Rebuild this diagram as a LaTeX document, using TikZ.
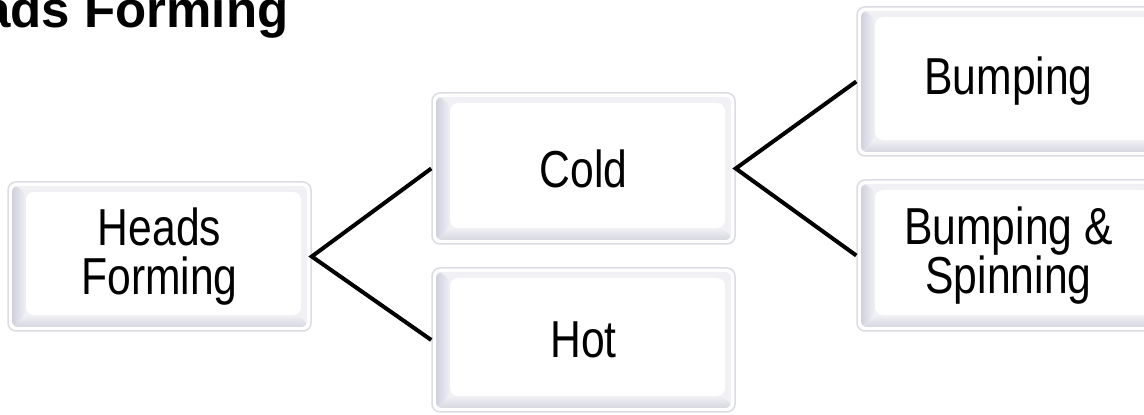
\documentclass[tikz,border=0pt]{standalone}
\usepackage{fontspec}
\setmainfont{Liberation Sans}
\newfontfamily\boxfont[FakeStretch=0.82]{Liberation Sans}
\usetikzlibrary{calc}
\definecolor{edgec}{RGB}{220,220,226}
\definecolor{bodyc}{RGB}{240,240,245}
\definecolor{bevL}{RGB}{200,200,216}
\definecolor{bevB}{RGB}{206,206,218}
\tikzset{
  bevelbox/.style={
    draw=edgec, line width=1.5pt, rounded corners=8pt, fill=white,
    minimum width=303pt, inner sep=0pt, align=center,
    font=\boxfont\fontsize{52}{49}\selectfont, text=black,
    path picture={
      \path (path picture bounding box.south west) coordinate (SW)
            (path picture bounding box.north east) coordinate (NE)
            (path picture bounding box.north west) coordinate (NW)
            (path picture bounding box.south east) coordinate (SE);
      \begin{scope}
        \clip[rounded corners=6pt] ($(SW)+(4,4)$) rectangle ($(NE)+(-4,-4)$);
        \fill[bodyc] (SW) rectangle (NE);
        \shade[left color=bevL, right color=bodyc]
          (SW) -- ($(SW)+(18,16)$) -- ($(NW)+(18,-10)$) -- (NW) -- cycle;
        \shade[bottom color=bevB, top color=bodyc]
          (SW) -- ($(SW)+(18,16)$) -- ($(SE)+(-10,16)$) -- (SE) -- cycle;
        \fill[white] ($(SW)+(18,16)$) rectangle ($(NE)+(-10,-10)$);
      \end{scope}
    }
  },
  link/.style={line width=4pt, black}
}
\begin{document}
\begin{tikzpicture}[x=1pt,y=1pt]
\useasboundingbox (0,0) rectangle (1144,415);
\fill[white] (0,0) rectangle (1144,415);
\node[anchor=base east, font=\bfseries\fontsize{51}{54}\selectfont] (title) at (292,387) {Heads Forming};
\node[bevelbox, minimum height=149pt] (heads) at (159.5,158.5) {Heads\\Forming};
\node[bevelbox, minimum height=151pt] (cold) at (583.5,246.5) {Cold};
\node[bevelbox, minimum height=144pt] (hot) at (583.5,75) {Hot};
\node[bevelbox, minimum height=149pt] (bump) at (1008.5,333.5) {Bumping};
\node[bevelbox, minimum height=151pt] (bs) at (1008.5,159.5) {Bumping \&\\Spinning};
\draw[link] (cold.west) -- (heads.east) -- (hot.west);
\draw[link] (bump.west) -- (cold.east) -- (bs.west);
\end{tikzpicture}
\end{document}
